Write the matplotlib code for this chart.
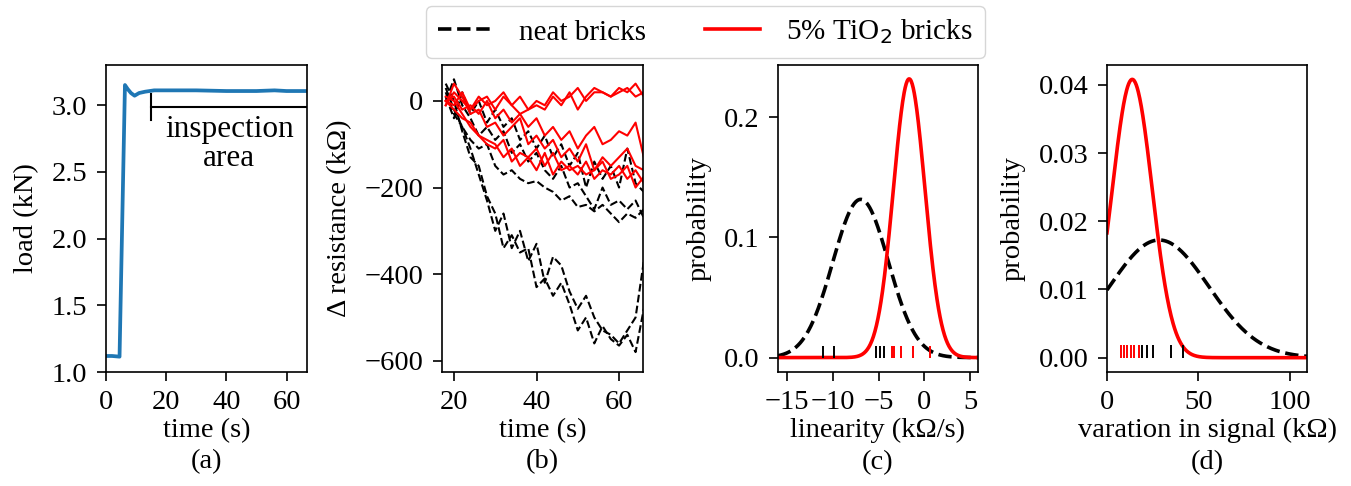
import math
import numpy as np
import matplotlib
matplotlib.use("Agg")
import matplotlib.pyplot as plt
from matplotlib.lines import Line2D

plt.rcParams['font.family'] = ['Liberation Serif', 'DejaVu Serif']
plt.rcParams['mathtext.fontset'] = 'dejavusans'
plt.rcParams['font.size'] = 20.5
plt.rcParams['xtick.major.size'] = 6.5
plt.rcParams['ytick.major.size'] = 6.5
plt.rcParams['xtick.major.width'] = 1.2
plt.rcParams['ytick.major.width'] = 1.2
plt.rcParams['xtick.major.pad'] = 6.5
plt.rcParams['ytick.major.pad'] = 7

#%% data
# (a) load vs time
t_load = [0, 2, 4.5, 6.3, 7.2, 8.3, 9.5, 11, 13, 16, 20, 30, 40, 50, 56, 60, 67]
load = [1.12, 1.12, 1.115, 3.15, 3.12, 3.09, 3.07, 3.09, 3.10, 3.11, 3.11, 3.11, 3.105, 3.105, 3.11, 3.105, 3.105]
insp_start = 15
insp_level = 2.985

# (b) resistance change
t_res = [18, 20, 22, 24, 26, 28, 30, 32, 34, 36, 38, 40, 42, 44, 46, 48, 50, 52, 54, 56, 58, 60, 62, 64, 66]
neat_1 = [20, -30, -60, -110, -170, -230, -300, -260, -340, -300, -370, -330, -420, -360, -380, -440, -480, -450, -500, -530, -540, -560, -530, -500, -370]
neat_2 = [40, 0, -70, -130, -150, -220, -260, -340, -310, -350, -340, -430, -410, -450, -420, -470, -530, -500, -560, -520, -550, -565, -540, -580, -480]
neat_3 = [30, -20, -60, -90, -110, -100, -150, -170, -160, -180, -190, -185, -200, -210, -230, -220, -245, -240, -255, -240, -260, -280, -260, -270, -250]
neat_4 = [0, 50, -10, -40, -80, -60, -90, -70, -120, -100, -140, -120, -160, -180, -150, -200, -190, -220, -250, -200, -240, -230, -250, -230, -270]
neat_5 = [10, -40, 20, -30, 0, -50, -20, -60, -40, -90, -70, -110, -80, -130, -100, -150, -120, -200, -140, -180, -150, -200, -110, -190, -210]
tio2_1 = [0, -10, 20, -20, 10, -10, 0, 20, -10, 10, -20, 0, -10, 20, 0, 10, 30, 0, 20, 20, 10, 30, 20, 40, 10]
tio2_2 = [-10, 20, 0, -20, 0, 10, -20, 10, -10, -30, -20, -10, -20, 10, -10, 20, -20, 10, 30, 20, 10, 20, 30, 10, 20]
tio2_3 = [0, 10, -20, -10, -30, 0, -40, -20, -50, -30, -60, -40, -80, -60, -90, -70, -110, -80, -60, -100, -90, -70, -80, -50, -130]
tio2_4 = [-10, 40, 10, -30, -20, -60, -50, -80, -60, -40, -100, -80, -110, -90, -130, -110, -140, -100, -160, -130, -150, -130, -110, -150, -160]
tio2_5 = [10, 0, -30, -60, -80, -100, -110, -90, -140, -120, -130, -110, -150, -120, -160, -150, -170, -140, -180, -160, -170, -150, -180, -160, -190]
tio2_6 = [0, -20, -40, -50, -80, -90, -100, -130, -110, -150, -130, -160, -120, -170, -140, -160, -150, -170, -160, -140, -180, -170, -150, -200, -175]
neat_series = [neat_1, neat_2, neat_3, neat_4, neat_5]
tio2_series = [tio2_1, tio2_2, tio2_3, tio2_4, tio2_5, tio2_6]

# (c) linearity (kOhm/s): per-brick values and fitted normal parameters
lin_neat = [-11.07, -9.84, -5.26, -4.83, -4.46]
lin_tio2 = [-3.6, -3.3, -2.6, -1.3, 0.62]
lin_neat_mu, lin_neat_sd = -6.97, 3.03
lin_tio2_mu, lin_tio2_sd = -1.67, 1.72

# (d) variation in signal (kOhm): per-brick values and fitted (truncated) normal parameters
var_neat = [19.1, 21.8, 25.4, 35.1, 41.5]
var_tio2 = [7.6, 9.4, 11.2, 13.1, 15.0, 17.6]
var_neat_mu, var_neat_sd = 28.5, 27.1
var_tio2_mu, var_tio2_sd = 13.8, 10.9


def normal_pdf(x, mu, sd, lower=None):
    p = np.exp(-0.5 * ((x - mu) / sd) ** 2) / (sd * math.sqrt(2 * math.pi))
    if lower is not None:
        p = p / (0.5 * (1 - math.erf((lower - mu) / (sd * math.sqrt(2)))))
    return p


#%% figure
W, H = 1351, 486
fig = plt.figure(figsize=(W / 100, H / 100), dpi=100)


def box(left, right, top=65, bottom=372):
    return [left / W, 1 - bottom / H, (right - left) / W, (bottom - top) / H]


ax_a = fig.add_axes(box(106, 307))
ax_b = fig.add_axes(box(442, 643))
ax_c = fig.add_axes(box(778, 978))
ax_d = fig.add_axes(box(1107, 1307))

# (a)
ax_a.plot(t_load, load, color='#1f77b4', lw=2.7)
ax_a.plot([insp_start, 70], [insp_level, insp_level], color='black', lw=1.5)
ax_a.plot([insp_start, insp_start], [2.885, 3.085], color='black', lw=1.5)
ax_a.text(41, 2.71, 'inspection\narea', ha='center', va='center', fontsize=22.5, linespacing=1.0)
ax_a.set_xlim(0, 66.8)
ax_a.set_ylim(1.0, 3.3)
ax_a.set_yticks([1.0, 1.5, 2.0, 2.5, 3.0])
ax_a.set_xticks([0, 20, 40, 60])
ax_a.set_ylabel('load (kN)')
ax_a.set_xlabel('time (s)\n(a)', linespacing=1.35)

# (b)
for s in neat_series:
    ax_b.plot(t_res, s, color='black', ls='--', lw=1.5)
for s in tio2_series:
    ax_b.plot(t_res, s, color='red', lw=1.5)
ax_b.set_xlim(17.1, 65.8)
ax_b.set_ylim(-626, 83)
ax_b.set_xticks([20, 40, 60])
ax_b.set_yticks([0, -200, -400, -600])
ax_b.set_ylabel('Δ resistance (kΩ)')
ax_b.set_xlabel('time (s)\n(b)', linespacing=1.35)

# (c)
xc = np.linspace(-16, 6, 400)
ax_c.plot(xc, normal_pdf(xc, lin_neat_mu, lin_neat_sd), color='black', ls='--', lw=2.6)
ax_c.plot(xc, normal_pdf(xc, lin_tio2_mu, lin_tio2_sd), color='red', lw=2.6)
ax_c.vlines(lin_neat, 0, 0.01, color='black', lw=1.4)
ax_c.vlines(lin_tio2, 0, 0.01, color='red', lw=1.4)
ax_c.set_xlim(-16, 5.85)
ax_c.set_ylim(-0.012, 0.2435)
ax_c.set_xticks([-15, -10, -5, 0, 5])
ax_c.set_yticks([0.0, 0.1, 0.2])
ax_c.set_ylabel('probability')
ax_c.set_xlabel('linearity (kΩ/s)\n(c)', linespacing=1.35)

# (d)
xd = np.linspace(0, 110, 400)
ax_d.plot(xd, normal_pdf(xd, var_neat_mu, var_neat_sd, lower=0), color='black', ls='--', lw=2.6)
ax_d.plot(xd, normal_pdf(xd, var_tio2_mu, var_tio2_sd, lower=0), color='red', lw=2.6)
ax_d.vlines(var_neat, 0, 0.00186, color='black', lw=1.4)
ax_d.vlines(var_tio2, 0, 0.00186, color='red', lw=1.4)
ax_d.set_xlim(0, 109.3)
ax_d.set_ylim(-0.0021, 0.0429)
ax_d.set_xticks([0, 50, 100])
ax_d.set_yticks([0.0, 0.01, 0.02, 0.03, 0.04])
ax_d.set_yticklabels(['0.00', '0.01', '0.02', '0.03', '0.04'])
ax_d.set_ylabel('probability')
ax_d.set_xlabel('varation in signal (kΩ)\n(d)', linespacing=1.35)

for ax in (ax_a, ax_b, ax_c, ax_d):
    ax.xaxis.labelpad = 2
    ax.yaxis.labelpad = 9
    for sp in ax.spines.values():
        sp.set_linewidth(1.2)

handles = [Line2D([], [], color='black', ls='--', lw=2.6),
           Line2D([], [], color='red', lw=2.6)]
fig.legend(handles, ['neat bricks', '5% TiO$_2$ bricks'], loc='center',
           bbox_to_anchor=(0.522, 0.934), ncol=2, fontsize=21,
           handlelength=1.9, handletextpad=0.9, columnspacing=2.0, borderpad=0.4)

fig.savefig('out.png', dpi=100)
